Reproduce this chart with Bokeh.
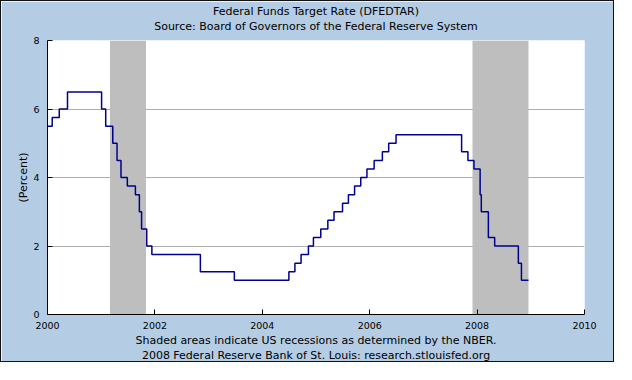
import pandas as pd
from bokeh.plotting import figure
from bokeh.models import (Range1d, FixedTicker, DatetimeTickFormatter,
                          BoxAnnotation, Title)
from bokeh.embed import file_html
from bokeh.resources import INLINE

# ---- data ----
dates = ["2000-01-01", "2000-02-02", "2000-03-21", "2000-05-16",
         "2001-01-03", "2001-01-31", "2001-03-20", "2001-04-18", "2001-05-15",
         "2001-06-27", "2001-08-21", "2001-09-17", "2001-10-02", "2001-11-06",
         "2001-12-11", "2002-11-06", "2003-06-25", "2004-06-30", "2004-08-10",
         "2004-09-21", "2004-11-10", "2004-12-14", "2005-02-02", "2005-03-22",
         "2005-05-03", "2005-06-30", "2005-08-09", "2005-09-20", "2005-11-01",
         "2005-12-13", "2006-01-31", "2006-03-28", "2006-05-10", "2006-06-29",
         "2007-09-18", "2007-10-31", "2007-12-11", "2008-01-22", "2008-01-30",
         "2008-03-18", "2008-04-30", "2008-10-08", "2008-10-29", "2008-12-16"]
rates = [5.50, 5.75, 6.00, 6.50,
         6.00, 5.50, 5.00, 4.50, 4.00,
         3.75, 3.50, 3.00, 2.50, 2.00,
         1.75, 1.25, 1.00, 1.25, 1.50,
         1.75, 2.00, 2.25, 2.50, 2.75,
         3.00, 3.25, 3.50, 3.75, 4.00,
         4.25, 4.50, 4.75, 5.00, 5.25,
         4.75, 4.50, 4.25, 3.50, 3.00,
         2.25, 2.00, 1.50, 1.00, 1.00]

recession_starts = ["2001-03-01", "2007-12-01"]
recession_ends = ["2001-11-01", "2008-12-16"]

tick_years = [2000, 2002, 2004, 2006, 2008, 2010]
y_ticks = [0, 2, 4, 6, 8]
x_start, x_end = "2000-01-01", "2010-01-01"
y_start, y_end = 0, 8

title_text = "Federal Funds Target Rate (DFEDTAR)"
subtitle_text = "Source: Board of Governors of the Federal Reserve System"
footer1_text = "Shaded areas indicate US recessions as determined by the NBER."
footer2_text = "2008 Federal Reserve Bank of St. Louis: research.stlouisfed.org"
y_label = "(Percent)"

FONT = "DejaVu Sans"
BG = "#B4CDE4"
LINE = "#00008F"

x = pd.to_datetime(dates)

p = figure(width=614, height=362, x_axis_type="datetime",
           x_range=Range1d(pd.Timestamp(x_start), pd.Timestamp(x_end)),
           y_range=Range1d(y_start, y_end),
           output_backend="svg", toolbar_location=None,
           min_border_left=46, min_border_right=31,
           min_border_top=39, min_border_bottom=49,
           background_fill_color="white", border_fill_color=BG,
           outline_line_color=None)
p.styles = {"border": "1px solid #111111"}

# recessions
for s, e in zip(recession_starts, recession_ends):
    p.add_layout(BoxAnnotation(left=pd.Timestamp(s), right=pd.Timestamp(e),
                               fill_color="#BEBEBE", fill_alpha=1.0,
                               line_color=None, level="underlay"))

p.step(x, rates, mode="after", line_color=LINE, line_width=1.5)

# axes
tick_ms = [pd.Timestamp(f"{yr}-01-01").value // 10**6 for yr in tick_years]
p.xaxis.ticker = FixedTicker(ticks=tick_ms)
p.xaxis.formatter = DatetimeTickFormatter(
    years="%Y", months="%Y", days="%Y", hours="%Y", hourmin="%Y",
    minutes="%Y", minsec="%Y", seconds="%Y", milliseconds="%Y",
    microseconds="%Y")
p.yaxis.ticker = FixedTicker(ticks=y_ticks)

for ax in (p.xaxis[0], p.yaxis[0]):
    ax.axis_line_color = "black"
    ax.axis_line_width = 1
    ax.major_tick_line_color = "black"
    ax.major_tick_in = 5
    ax.major_tick_out = 0
    ax.minor_tick_line_color = None
    ax.major_label_text_font = FONT
    ax.major_label_text_font_size = "9.5px"
    ax.major_label_text_color = "black"

p.xaxis.major_label_standoff = 7
p.yaxis.major_label_standoff = 8

p.yaxis.axis_label = y_label
p.yaxis.axis_label_text_font = FONT
p.yaxis.axis_label_text_font_size = "11px"
p.yaxis.axis_label_text_font_style = "normal"
p.yaxis.axis_label_text_color = "black"
p.yaxis.axis_label_standoff = 0

p.xgrid.grid_line_color = None
p.ygrid.grid_line_color = "#AEAEAE"
p.ygrid.grid_line_width = 1
p.ygrid.ticker = FixedTicker(ticks=y_ticks)

def make_title(txt, standoff=0, size="11px"):
    return Title(text=txt, align="center", text_font=FONT,
                 text_font_size=size, text_font_style="normal",
                 text_color="black", standoff=standoff, offset=0)

# above: first added is closest to the frame (a blank spacer first)
p.add_layout(make_title(" ", size="5px"), "above")
p.add_layout(make_title(subtitle_text), "above")
p.add_layout(make_title(title_text), "above")
# below: after the x axis
p.add_layout(make_title(footer1_text), "below")
p.add_layout(make_title(footer2_text), "below")

open("out.html", "w").write(file_html(p, INLINE))
